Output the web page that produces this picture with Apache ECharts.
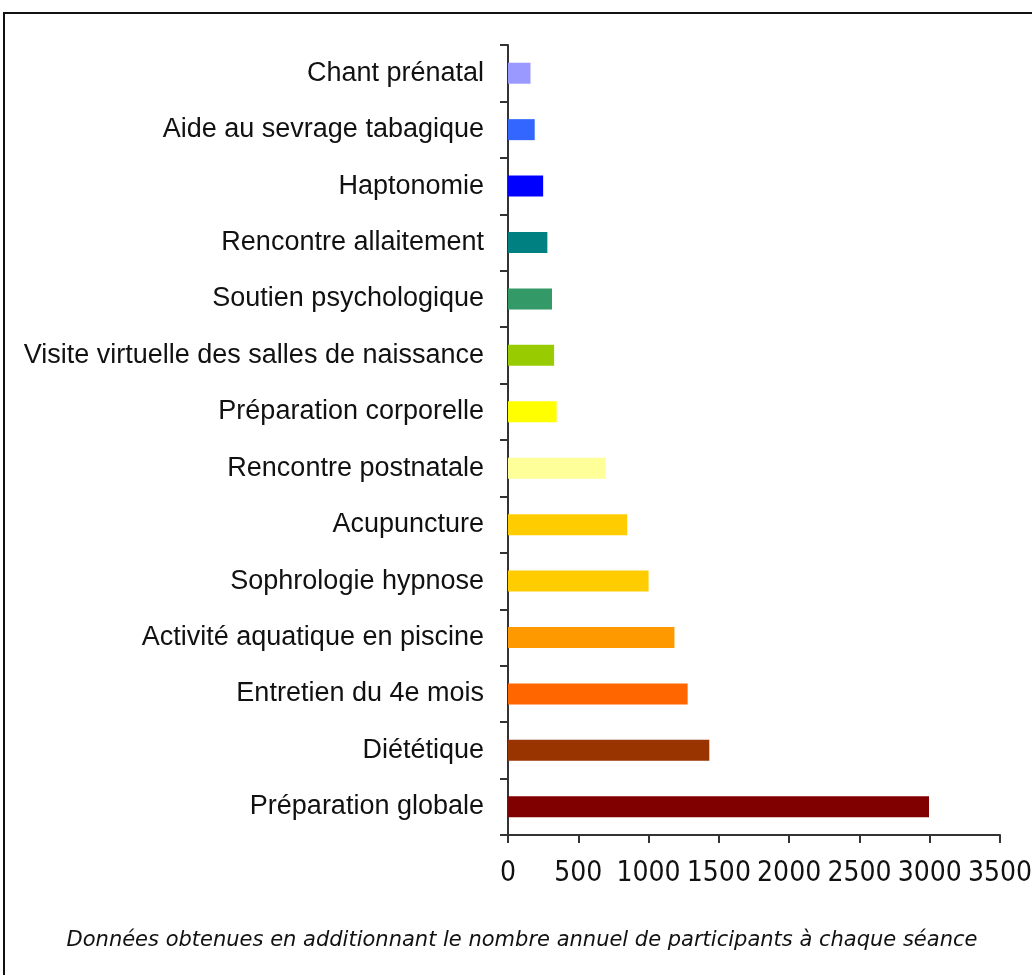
<!DOCTYPE html>
<html>
<head>
<meta charset="utf-8">
<script src="https://cdn.jsdelivr.net/npm/echarts@6/dist/echarts.min.js"></script>
<style>
html,body{margin:0;padding:0;background:#fff;}
#chart{width:1032px;height:975px;}
</style>
</head>
<body>
<div id="chart"></div>
<script>
// Categories listed top to bottom
const categories = [
  'Chant prénatal',
  'Aide au sevrage tabagique',
  'Haptonomie',
  'Rencontre allaitement',
  'Soutien psychologique',
  'Visite virtuelle des salles de naissance',
  'Préparation corporelle',
  'Rencontre postnatale',
  'Acupuncture',
  'Sophrologie hypnose',
  'Activité aquatique en piscine',
  'Entretien du 4e mois',
  'Diététique',
  'Préparation globale'
];
const participants = [160, 190, 250, 280, 313, 328, 346, 695, 848, 1000, 1184, 1278, 1432, 2995];
const barColors = ['#9999FF','#3366FF','#0000FF','#008080','#339966','#99CC00','#FFFF00','#FFFF99','#FFCC00','#FFCC00','#FF9900','#FF6600','#993300','#800000'];
const xTicks = [0, 500, 1000, 1500, 2000, 2500, 3000, 3500];
const footnote = 'Données obtenues en additionnant le nombre annuel de participants à chaque séance';

const chart = echarts.init(document.getElementById('chart'), null, {renderer: 'canvas'});
chart.setOption({
  backgroundColor: '#fff',
  animation: false,
  grid: {left: 508, top: 45, width: 492, height: 790, containLabel: false, outerBoundsMode: 'none'},
  xAxis: {
    type: 'value',
    min: xTicks[0],
    max: xTicks[xTicks.length - 1],
    interval: 500,
    splitLine: {show: false},
    axisLine: {show: true, lineStyle: {color: '#333', width: 2}},
    axisTick: {show: true, length: 8, lineStyle: {color: '#333', width: 2}},
    axisLabel: {
      color: '#111',
      fontFamily: '"Liberation Sans Narrow", "DejaVu Sans Condensed", "Liberation Sans", sans-serif',
      fontSize: 28, margin: 25, showMaxLabel: true,
      formatter: v => String(v)
    }
  },
  yAxis: {
    type: 'category',
    data: categories,
    inverse: true,
    axisLine: {show: true, lineStyle: {color: '#333', width: 2}},
    axisTick: {show: true, length: 8, lineStyle: {color: '#333', width: 2}},
    axisLabel: {color: '#111', fontFamily: '"Liberation Sans", Arial, sans-serif', fontSize: 27, margin: 24}
  },
  series: [{
    type: 'bar',
    barWidth: 21,
    data: participants.map((v, i) => ({value: v, itemStyle: {color: barColors[i]}}))
  }],
  graphic: [
    {type: 'rect', shape: {x: 4, y: 13, width: 1060, height: 1000}, style: {fill: 'none', stroke: '#111', lineWidth: 2}, silent: true},
    {type: 'text', x: 522, y: 941, style: {text: footnote, align: 'center', verticalAlign: 'middle', font: 'italic 21px "DejaVu Sans", sans-serif', fill: '#111'}}
  ]
});
</script>
</body>
</html>
